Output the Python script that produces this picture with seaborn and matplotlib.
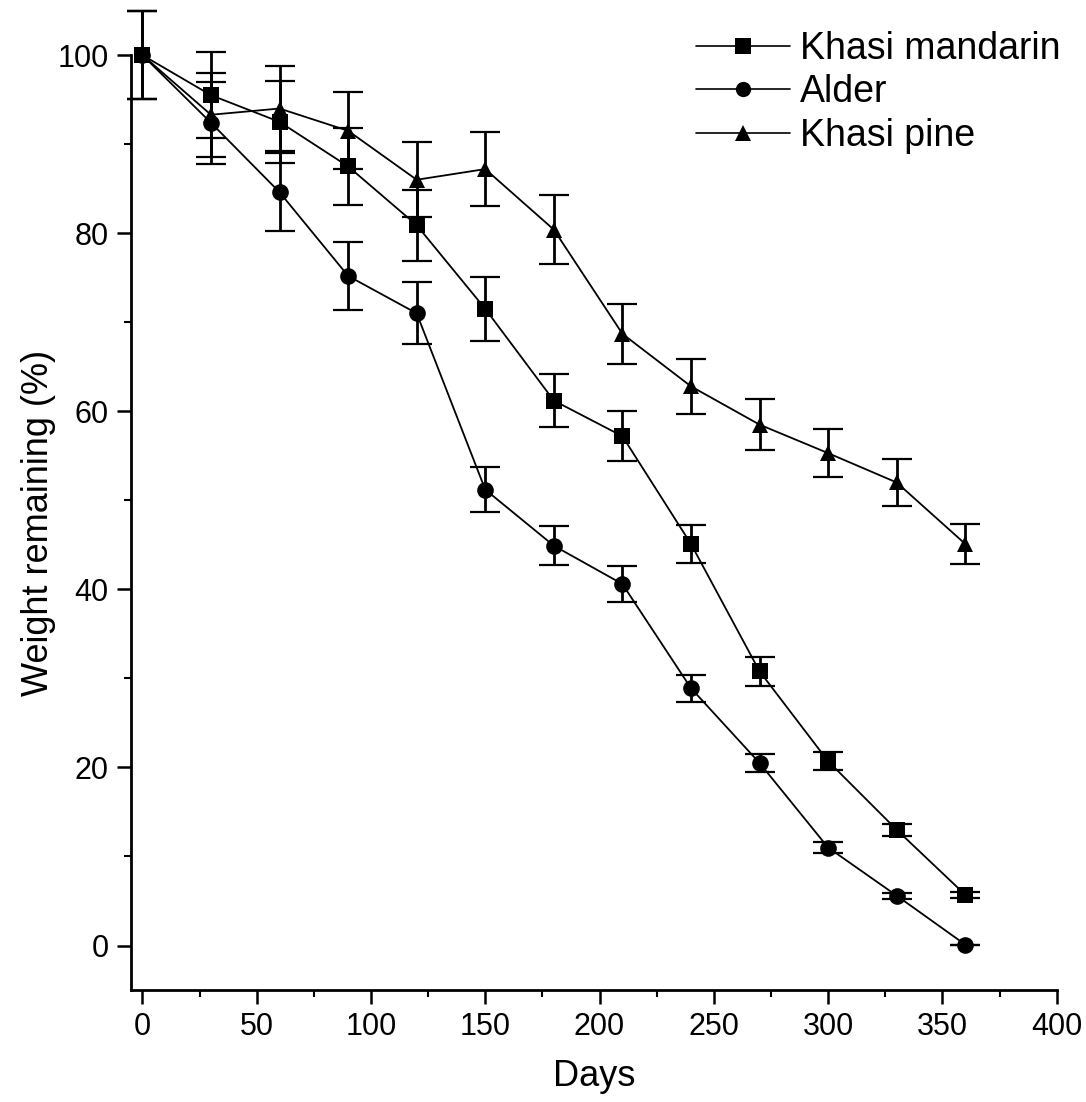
import numpy as np
import pandas as pd
import matplotlib
matplotlib.use("Agg")
import matplotlib.pyplot as plt
import seaborn as sns
from matplotlib.ticker import MultipleLocator

days = [0, 30, 60, 90, 120, 150, 180, 210, 240, 270, 300, 330, 360]

mandarin = [100, 95.5, 92.5, 87.5, 80.9, 71.5, 61.2, 57.2, 45.1, 30.8, 20.7, 13.0, 5.7]
mandarin_err = [4.9, 4.8, 4.6, 4.3, 4.0, 3.6, 3.0, 2.8, 2.15, 1.6, 1.0, 0.65, 0.35]

alder = [100, 92.4, 84.6, 75.2, 71.0, 51.2, 44.9, 40.6, 28.9, 20.5, 11.0, 5.6, 0.1]
alder_err = [4.9, 4.6, 4.4, 3.8, 3.5, 2.5, 2.2, 2.0, 1.5, 1.0, 0.6, 0.35, 0.0]

pine = [100, 93.3, 94.0, 91.5, 86.0, 87.2, 80.4, 68.7, 62.8, 58.5, 55.3, 52.0, 45.1]
pine_err = [4.9, 4.7, 4.8, 4.3, 4.2, 4.2, 3.9, 3.4, 3.1, 2.9, 2.7, 2.6, 2.2]

series_names = ["Khasi mandarin", "Alder", "Khasi pine"]
series_vals = [mandarin, alder, pine]
series_errs = [mandarin_err, alder_err, pine_err]
series_markers = ["s", "o", "^"]

rows = []
for name, vals, errs in zip(series_names, series_vals, series_errs):
    for d, v, e in zip(days, vals, errs):
        rows.append({"Days": d, "Weight": v, "Err": e, "Species": name})
df = pd.DataFrame(rows)

sns.set_style("ticks")
plt.rcParams["font.family"] = ["Liberation Sans", "DejaVu Sans"]
plt.rcParams["text.color"] = "black"
plt.rcParams["axes.labelcolor"] = "black"
plt.rcParams["xtick.color"] = "black"
plt.rcParams["ytick.color"] = "black"

fig = plt.figure(figsize=(10.86, 11.02), dpi=100)
ax = fig.add_axes([0.1206, 0.1016, 0.8524, 0.8484])

# error bars
for name in series_names:
    sub = df[df["Species"] == name]
    ax.errorbar(sub["Days"], sub["Weight"], yerr=sub["Err"], fmt="none",
                ecolor="black", elinewidth=2.0, capsize=11, capthick=1.6,
                clip_on=False, zorder=2)

sns.lineplot(data=df, x="Days", y="Weight", style="Species", hue="Species",
             palette=["black"] * 3, markers=dict(zip(series_names, series_markers)),
             dashes=False, markersize=12, linewidth=1.3, markeredgewidth=0,
             ax=ax, legend=True, zorder=3)

for ln in ax.lines:
    ln.set_clip_on(False)

ax.set_xlim(-5, 400)
ax.set_ylim(-5, 100)
ax.xaxis.set_major_locator(MultipleLocator(50))
ax.xaxis.set_minor_locator(MultipleLocator(25))
ax.yaxis.set_major_locator(MultipleLocator(20))
ax.yaxis.set_minor_locator(MultipleLocator(10))
ax.tick_params(axis="both", which="major", direction="out", length=10, width=1.8,
               labelsize=22, color="black", labelcolor="black", pad=6)
ax.tick_params(axis="both", which="minor", direction="out", length=5, width=1.5,
               color="black")

for side in ["top", "right"]:
    ax.spines[side].set_visible(False)
for side in ["left", "bottom"]:
    ax.spines[side].set_linewidth(2.0)
    ax.spines[side].set_color("black")

ax.set_xlabel("Days", fontsize=26, labelpad=12, color="black")
ax.set_ylabel("Weight remaining (%)", fontsize=26, labelpad=1, color="black")

handles, labels = ax.get_legend_handles_labels()
for h in handles:
    h.set_markersize(11)
    h.set_linewidth(1.2)
leg = ax.legend(handles, labels, loc="upper right", bbox_to_anchor=(1.02, 1.042),
                frameon=False, fontsize=27, handlelength=2.5, handletextpad=0.27,
                labelspacing=0.2, borderaxespad=0.0)
for t in leg.get_texts():
    t.set_color("black")

fig.savefig("out.png", dpi=100, facecolor="white")
